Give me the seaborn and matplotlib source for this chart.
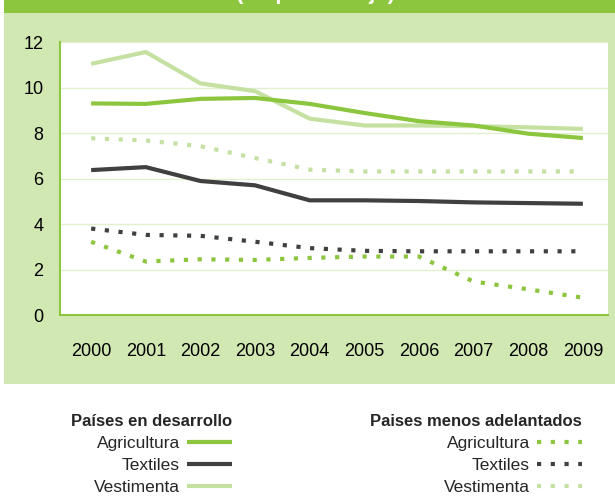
import matplotlib
matplotlib.use("Agg")
import matplotlib.pyplot as plt
import seaborn as sns
import pandas as pd
from matplotlib.patches import Rectangle
from matplotlib.lines import Line2D

years = [2000, 2001, 2002, 2003, 2004, 2005, 2006, 2007, 2008, 2009]
dev_agricultura = [9.30, 9.28, 9.50, 9.54, 9.28, 8.88, 8.52, 8.33, 7.97, 7.78]
dev_textiles = [6.37, 6.50, 5.89, 5.70, 5.04, 5.04, 5.01, 4.95, 4.92, 4.89]
dev_vestimenta = [11.04, 11.56, 10.18, 9.84, 8.63, 8.33, 8.33, 8.30, 8.25, 8.18]
ldc_agricultura = [3.22, 2.35, 2.45, 2.42, 2.51, 2.57, 2.57, 1.47, 1.13, 0.76]
ldc_textiles = [3.80, 3.52, 3.48, 3.22, 2.94, 2.82, 2.80, 2.80, 2.80, 2.80]
ldc_vestimenta = [7.77, 7.67, 7.42, 6.90, 6.39, 6.31, 6.31, 6.31, 6.31, 6.31]
sectors = ["Agricultura", "Textiles", "Vestimenta"]
title_dev = "Países en desarrollo"
title_ldc = "Paises menos adelantados"
yticks = [0, 2, 4, 6, 8, 10, 12]

GREEN = "#8cc63f"
DARK = "#404040"
LIGHT = "#c4e1a2"
PANEL = "#d2e8b3"
colors = {"Agricultura": GREEN, "Textiles": DARK, "Vestimenta": LIGHT}

sns.set_theme(style="white")
plt.rcParams["font.family"] = ["Liberation Sans", "DejaVu Sans"]

fig = plt.figure(figsize=(6.15, 4.98), dpi=100)
fig.patch.set_facecolor("white")
fig.add_artist(Rectangle((4/615, 1-384/498), 1-4/615, (384-13)/498,
                         transform=fig.transFigure, facecolor=PANEL, edgecolor="none", zorder=0))
fig.add_artist(Rectangle((4/615, 1-13/498), 1-4/615, 13/498,
                         transform=fig.transFigure, facecolor=GREEN, edgecolor="none", zorder=0))
fig.text(316/615, 1+1.5/498, "(en porcentaje)", color="white", fontsize=16,
         fontweight="bold", ha="center", va="baseline")

ax = fig.add_axes([60/615, 1-315/498, (608-60)/615, (315-42)/498])
ax.set_facecolor("white")

dev = {"Agricultura": dev_agricultura, "Textiles": dev_textiles, "Vestimenta": dev_vestimenta}
ldc = {"Agricultura": ldc_agricultura, "Textiles": ldc_textiles, "Vestimenta": ldc_vestimenta}

dot = (0, (1.0, 2.3))
for s in ["Vestimenta", "Textiles", "Agricultura"]:
    d = pd.DataFrame({"year": years, "value": ldc[s]})
    sns.lineplot(data=d, x="year", y="value", ax=ax, color=colors[s], lw=3,
                 linestyle=dot, solid_capstyle="butt", dash_capstyle="butt")
for s in ["Vestimenta", "Agricultura", "Textiles"]:
    d = pd.DataFrame({"year": years, "value": dev[s]})
    sns.lineplot(data=d, x="year", y="value", ax=ax, color=colors[s], lw=3,
                 solid_capstyle="butt")

ax.set_xlim(1999.43, 2009.46)
ax.set_ylim(0, 12)
ax.set_xticks(years)
ax.set_xticklabels([str(y) for y in years])
ax.set_yticks(yticks)
ax.set_yticklabels([str(v) for v in yticks])
ax.tick_params(axis="x", length=0, pad=20, labelsize=13, colors="black")
ax.tick_params(axis="y", length=0, pad=12, labelsize=13, colors="black")
ax.set_xlabel("")
ax.set_ylabel("")
ax.yaxis.grid(True, color="#e2f0d0", lw=1)
ax.xaxis.grid(False)
for sp in ["top", "right"]:
    ax.spines[sp].set_visible(False)
for sp in ["left", "bottom"]:
    ax.spines[sp].set_color(GREEN)
    ax.spines[sp].set_linewidth(1.5)

h_dev = [Line2D([], [], color=colors[s], lw=3, solid_capstyle="butt") for s in sectors]
h_ldc = [Line2D([], [], color=colors[s], lw=3, linestyle=dot) for s in sectors]

leg_kw = dict(frameon=False, markerfirst=False, fontsize=12.5, handlelength=2.6,
              handletextpad=0.4, labelspacing=0.4, borderpad=0, borderaxespad=0,
              alignment="right", title_fontproperties={"weight": "bold", "size": 12})
leg1 = fig.legend(h_dev, sectors, title=title_dev, loc="upper right",
                  bbox_to_anchor=(232/615, 1-414/498), **leg_kw)
leg2 = fig.legend(h_ldc, sectors, title=title_ldc, loc="upper right",
                  bbox_to_anchor=(582/615, 1-414/498), **leg_kw)

fig.savefig("out.png", dpi=100, facecolor="white")
